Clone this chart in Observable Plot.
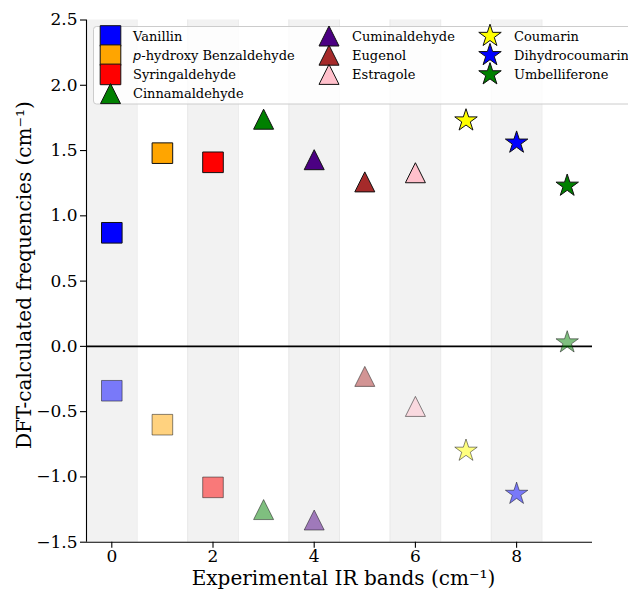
<!DOCTYPE html>
<html>
<head>
<meta charset="utf-8">
<script src="https://cdn.jsdelivr.net/npm/d3@7"></script>
<script src="https://cdn.jsdelivr.net/npm/@observablehq/plot@0.6"></script>
<style>
  html, body { margin: 0; padding: 0; background: #fff; overflow: hidden; }
  #wrap { position: relative; width: 628px; height: 591px; overflow: hidden; }
  #wrap svg { display: block; }
  #legend { position: absolute; left: 0; top: 0; pointer-events: none; }
</style>
</head>
<body>
<div id="wrap"></div>
<script>
// ---------- data ----------
const compounds = ["Vanillin", "p-hydroxy Benzaldehyde", "Syringaldehyde", "Cinnamaldehyde",
  "Cuminaldehyde", "Eugenol", "Estragole", "Coumarin", "Dihydrocoumarin", "Umbelliferone"];
const markerShapes = ["square", "square", "square", "triangle", "triangle", "triangle", "triangle", "star", "star", "star"];
const markerColors = ["#0000ff", "#ffa500", "#ff0000", "#008000", "#4b0082", "#a52a2a", "#ffc0cb", "#ffff00", "#0000ff", "#008000"];
const bandPositions = [0, 1, 2, 3, 4, 5, 6, 7, 8, 9];
const upperValues = [0.87, 1.48, 1.41, 1.74, 1.43, 1.26, 1.33, 1.73, 1.56, 1.23];
const lowerValues = [-0.34, -0.60, -1.08, -1.25, -1.33, -0.23, -0.46, -0.80, -1.13, 0.03];
const shadedBands = [0, 2, 4, 6, 8];
const xDomain = [-0.5, 9.5];
const yDomain = [-1.5, 2.5];
const xTickValues = [0, 2, 4, 6, 8];
const yTickValues = [-1.5, -1.0, -0.5, 0.0, 0.5, 1.0, 1.5, 2.0, 2.5];
const xLabel = "Experimental IR bands (cm\u207B\u00B9)";
const yLabel = "DFT-calculated frequencies (cm\u207B\u00B9)";

// ---------- matplotlib-like marker symbols ----------
const half = (size) => Math.sqrt(size / Math.PI);
const symbols = {
  square: { draw(ctx, size) { const r = half(size); ctx.moveTo(-r, -r); ctx.lineTo(r, -r); ctx.lineTo(r, r); ctx.lineTo(-r, r); ctx.closePath(); } },
  triangle: { draw(ctx, size) { const r = half(size); ctx.moveTo(0, -r); ctx.lineTo(r, r); ctx.lineTo(-r, r); ctx.closePath(); } },
  star: { draw(ctx, size) {
    const R = half(size), ri = R * 0.381966;
    for (let k = 0; k < 10; k++) {
      const a = -Math.PI / 2 + k * Math.PI / 5, rr = k % 2 ? ri : R;
      const px = rr * Math.cos(a), py = rr * Math.sin(a);
      if (k === 0) ctx.moveTo(px, py); else ctx.lineTo(px, py);
    }
    ctx.closePath();
  } }
};
const symbolRadius = { square: 10.3, triangle: 10, star: 11.8 };

const rows = compounds.map((name, i) => ({
  name, x: bandPositions[i], upper: upperValues[i], lower: lowerValues[i],
  shape: markerShapes[i], color: markerColors[i]
}));

const dotMarks = [];
for (const s of ["square", "triangle", "star"]) {
  const sub = rows.filter(d => d.shape === s);
  dotMarks.push(Plot.dot(sub, { x: "x", y: "lower", symbol: symbols[s], r: symbolRadius[s],
    fill: "color", stroke: "#111", strokeWidth: 1, fillOpacity: 0.5, strokeOpacity: 0.5 }));
  dotMarks.push(Plot.dot(sub, { x: "x", y: "upper", symbol: symbols[s], r: symbolRadius[s],
    fill: "color", stroke: "#111", strokeWidth: 1 }));
}

const chart = Plot.plot({
  width: 628,
  height: 591,
  marginLeft: 86,
  marginRight: 36,
  marginTop: 19.5,
  marginBottom: 49.3,
  style: { fontFamily: "'DejaVu Serif', serif", fontSize: "17px", color: "#000", background: "#fff" },
  x: { domain: xDomain, axis: null },
  y: { domain: yDomain, axis: null },
  color: { type: "identity" },
  marks: [
    Plot.rect(shadedBands, { x1: d => d - 0.5, x2: d => d + 0.5, fill: "#f2f2f2" }),
    Plot.ruleX(shadedBands.flatMap(d => [d - 0.5, d + 0.5]).filter(v => v > xDomain[0]), { stroke: "#e9e9e9", strokeWidth: 1 }),
    Plot.ruleY([0], { stroke: "#000", strokeWidth: 1.6 }),
    ...dotMarks,
    Plot.ruleX([xDomain[0]], { stroke: "#000", strokeWidth: 1.1 }),
    Plot.ruleY([yDomain[0]], { stroke: "#000", strokeWidth: 1.1 }),
    Plot.axisX(xTickValues, { tickSize: 6, tickPadding: 2, tickFormat: d => String(d), label: null, stroke: "#000", strokeWidth: 1.1 }),
    Plot.axisY(yTickValues, { tickSize: 6, tickPadding: 3, tickFormat: d3.format(".1f"), label: null, stroke: "#000", strokeWidth: 1.1 }),
    Plot.text([xLabel], { frameAnchor: "bottom", textAnchor: "middle", lineAnchor: "middle", dy: 36, dx: 4, fontSize: 20, fill: "#000" }),
    Plot.text([yLabel], { frameAnchor: "left", textAnchor: "middle", lineAnchor: "middle", rotate: -90, dx: -62, dy: -6, fontSize: 20, fill: "#000" })
  ]
});
document.getElementById("wrap").appendChild(chart);

// ---------- legend overlay (3 columns, column-wise fill) ----------
const legendColumns = [[0, 1, 2, 3], [4, 5, 6], [7, 8, 9]];
const colMarkerX = [110.5, 329, 490];
const colTextX = [133, 352, 514];
const rowY0 = 36, rowStep = 19.2;

const lg = d3.select("#wrap").append("svg").attr("id", "legend")
  .attr("width", 628).attr("height", 591)
  .style("font-family", "'DejaVu Serif', serif").style("font-size", "13px");
lg.append("rect").attr("x", 93.5).attr("y", 26.5).attr("width", 600).attr("height", 77.5)
  .attr("rx", 3).attr("fill", "rgba(255,255,255,0.8)").attr("stroke", "#cccccc").attr("stroke-width", 1);

legendColumns.forEach((col, c) => {
  col.forEach((i, r) => {
    const cy = rowY0 + r * rowStep;
    const p = d3.path();
    const rad = symbolRadius[markerShapes[i]];
    symbols[markerShapes[i]].draw(p, rad * rad * Math.PI);
    lg.append("path").attr("d", p.toString())
      .attr("transform", `translate(${colMarkerX[c]},${cy})`)
      .attr("fill", markerColors[i]).attr("stroke", "#111").attr("stroke-width", 1);
    const t = lg.append("text").attr("x", colTextX[c]).attr("y", cy).attr("dy", "0.35em").attr("fill", "#000");
    const name = compounds[i];
    if (name.startsWith("p-")) {
      t.append("tspan").attr("font-family", "'DejaVu Sans', sans-serif").attr("font-style", "italic").text("p");
      t.append("tspan").text(name.slice(1));
    } else {
      t.text(name);
    }
  });
});
</script>
</body>
</html>
